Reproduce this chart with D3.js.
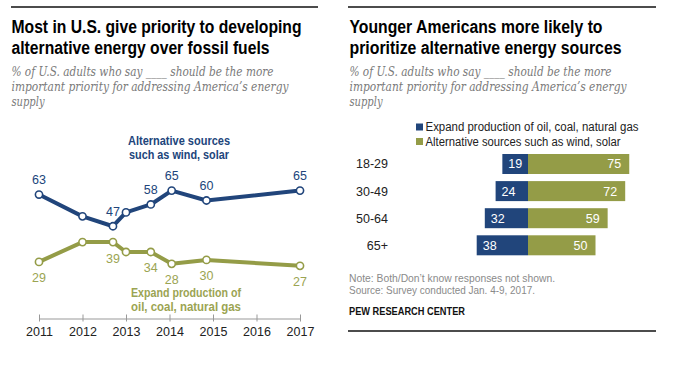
<!DOCTYPE html>
<html>
<head>
<meta charset="utf-8">
<script src="https://cdn.jsdelivr.net/npm/d3@7"></script>
<style>
  html, body { margin: 0; padding: 0; background: #fff; }
  svg { display: block; }
</style>
</head>
<body>
<div id="chart"></div>
<script>
// Left panel: trend over time
const surveyDates = [2011.0, 2012.0, 2012.7, 2013.0, 2013.57, 2014.05, 2014.85, 2017.0];
const altTrend = [63, 52, 47, 54, 58, 65, 60, 65];
const fossilTrend = [29, 39, 39, 34, 34, 28, 30, 27];
const labeled = [true, false, true, false, true, true, true, true];
const axisYears = [2011, 2012, 2013, 2014, 2015, 2016, 2017];

// Right panel: by age
const ageGroups = ["18-29", "30-49", "50-64", "65+"];
const expandByAge = [19, 24, 32, 38];
const altByAge = [75, 72, 59, 50];

const BLUE = "#21457b";
const GREEN = "#949c47";
const GREEN_TEXT = "#9ba452";
const SANS = "'Liberation Sans Narrow', 'Liberation Sans', Arial, sans-serif";
const SERIF = "'DejaVu Serif', 'Liberation Serif', serif";

const svg = d3.select("#chart")
    .append("svg")
    .attr("width", 686)
    .attr("height", 371);

svg.append("rect").attr("width", 686).attr("height", 371).attr("fill", "#fff");

// squeeze/stretch text to the width seen in the reference
function fit(sel, w) {
    sel.attr("textLength", w).attr("lengthAdjust", "spacingAndGlyphs");
    return sel;
}

function addText(x, y, str, opts) {
    const t = svg.append("text")
        .attr("x", x)
        .attr("y", y)
        .attr("font-family", opts.family || SANS)
        .attr("font-size", opts.size || 12)
        .attr("font-weight", opts.weight || "normal")
        .attr("font-style", opts.style || "normal")
        .attr("fill", opts.fill || "#000")
        .attr("text-anchor", opts.anchor || "start")
        .text(str);
    if (opts.w) fit(t, opts.w);
    return t;
}

// top rules
svg.append("line").attr("x1", 11).attr("x2", 318).attr("y1", 7).attr("y2", 7)
    .attr("stroke", "#111").attr("stroke-width", 1.5);
svg.append("line").attr("x1", 348).attr("x2", 656).attr("y1", 7).attr("y2", 7)
    .attr("stroke", "#111").attr("stroke-width", 1.5);
// bottom rule right
svg.append("line").attr("x1", 348).attr("x2", 656).attr("y1", 331).attr("y2", 331)
    .attr("stroke", "#111").attr("stroke-width", 1.5);

// titles
addText(11.5, 33, "Most in U.S. give priority to developing", { size: 18, weight: "bold", w: 290 });
addText(11.5, 53.5, "alternative energy over fossil fuels", { size: 18, weight: "bold", w: 258 });
addText(349.5, 33, "Younger Americans more likely to", { size: 18, weight: "bold", w: 253 });
addText(349.5, 53.5, "prioritize alternative energy sources", { size: 18, weight: "bold", w: 272 });

// subtitles
const subLines = [
    ["% of U.S. adults who say ____ should be the more", 262],
    ["important priority for addressing America\u2019s energy", 277],
    ["supply", 33]
];
subLines.forEach((d, i) => {
    addText(11.5, 76 + i * 15, d[0], { family: SERIF, size: 12.5, style: "italic", fill: "#7a7a7a", w: d[1] });
    addText(349.5, 76 + i * 15, d[0], { family: SERIF, size: 12.5, style: "italic", fill: "#7a7a7a", w: d[1] });
});

// ---------- left line chart ----------
const xL = d3.scaleLinear().domain([2011, 2017]).range([39, 300]);
const yL = d3.scaleLinear().domain([0, 100]).range([319.3, 121.3]);

const axisG = svg.append("g")
    .attr("transform", "translate(0,318.5)")
    .call(d3.axisBottom(xL).tickValues(axisYears).tickFormat(d3.format("d"))
        .tickSizeInner(3).tickSizeOuter(0).tickPadding(6));
axisG.select(".domain").attr("stroke", "#999").attr("stroke-width", 1);
axisG.selectAll(".tick line").attr("stroke", "#999").attr("y1", -4);
axisG.selectAll(".tick text")
    .attr("font-family", "'Liberation Sans', Arial, sans-serif")
    .attr("font-size", 12.5)
    .attr("fill", "#222");

const series = [
    { values: altTrend, color: BLUE, textColor: BLUE, above: true },
    { values: fossilTrend, color: GREEN, textColor: GREEN_TEXT, above: false }
];

const line = d3.line()
    .x((d, i) => xL(surveyDates[i]))
    .y(d => yL(d));

series.forEach(s => {
    svg.append("path")
        .datum(s.values)
        .attr("fill", "none")
        .attr("stroke", s.color)
        .attr("stroke-width", 4)
        .attr("stroke-linejoin", "round")
        .attr("d", line);

    svg.append("g").selectAll("circle")
        .data(s.values)
        .enter()
        .append("circle")
        .attr("cx", (d, i) => xL(surveyDates[i]))
        .attr("cy", d => yL(d))
        .attr("r", 3.6)
        .attr("fill", "#fff")
        .attr("stroke", s.color)
        .attr("stroke-width", 1.6);

    svg.append("g").selectAll("text")
        .data(s.values.map((v, i) => ({ v, i })).filter(d => labeled[d.i]))
        .enter()
        .append("text")
        .attr("x", d => xL(surveyDates[d.i]))
        .attr("y", d => yL(d.v) + (s.above ? -10.5 : 20.5))
        .attr("text-anchor", "middle")
        .attr("font-family", "'Liberation Sans', Arial, sans-serif")
        .attr("font-size", 12.5)
        .attr("fill", s.textColor)
        .text(d => d.v);
});

// series labels
addText(179, 145, "Alternative sources", { size: 12.5, weight: "bold", fill: BLUE, anchor: "middle", w: 102 });
addText(179, 158.5, "such as wind, solar", { size: 12.5, weight: "bold", fill: BLUE, anchor: "middle", w: 100 });
addText(186, 297, "Expand production of", { size: 12.5, weight: "bold", fill: GREEN_TEXT, anchor: "middle", w: 110 });
addText(186, 311, "oil, coal, natural gas", { size: 12.5, weight: "bold", fill: GREEN_TEXT, anchor: "middle", w: 110 });

// ---------- right bar chart ----------
const xR = d3.scaleLinear().domain([0, 100]).range([528, 663]);
const yR = d3.scaleBand().domain(ageGroups).range([154, 255.3]).paddingInner(0.262).paddingOuter(0);

// legend
const legendItems = [
    ["Expand production of oil, coal, natural gas", BLUE, 213],
    ["Alternative sources such as wind, solar", GREEN, 195]
];
legendItems.forEach((d, i) => {
    const cy = 127 + i * 14.5;
    svg.append("rect").attr("x", 416).attr("y", cy - 3.5).attr("width", 7).attr("height", 7).attr("fill", d[1]);
    addText(425.5, cy + 4, d[0], { size: 12, fill: "#222", w: d[2] });
});

const rows = svg.append("g").selectAll("g")
    .data(ageGroups)
    .enter()
    .append("g");

rows.append("text")
    .attr("x", 388)
    .attr("y", d => yR(d) + yR.bandwidth() / 2 + 4.5)
    .attr("text-anchor", "end")
    .attr("font-family", "'Liberation Sans', Arial, sans-serif")
    .attr("font-size", 12.5)
    .attr("fill", "#222")
    .text(d => d);

rows.append("rect")
    .attr("x", (d, i) => xR(-expandByAge[i]))
    .attr("y", d => yR(d))
    .attr("width", (d, i) => xR(0) - xR(-expandByAge[i]))
    .attr("height", yR.bandwidth())
    .attr("fill", BLUE);

rows.append("rect")
    .attr("x", xR(0))
    .attr("y", d => yR(d))
    .attr("width", (d, i) => xR(altByAge[i]) - xR(0))
    .attr("height", yR.bandwidth())
    .attr("fill", GREEN);

rows.append("text")
    .attr("x", (d, i) => xR(-expandByAge[i]) + 6)
    .attr("y", d => yR(d) + yR.bandwidth() / 2 + 4.5)
    .attr("font-family", "'Liberation Sans', Arial, sans-serif")
    .attr("font-size", 12.5)
    .attr("fill", "#fff")
    .text((d, i) => expandByAge[i]);

rows.append("text")
    .attr("x", (d, i) => xR(altByAge[i]) - 8)
    .attr("y", d => yR(d) + yR.bandwidth() / 2 + 4.5)
    .attr("text-anchor", "end")
    .attr("font-family", "'Liberation Sans', Arial, sans-serif")
    .attr("font-size", 12.5)
    .attr("fill", "#fff")
    .text((d, i) => altByAge[i]);

// notes
addText(349, 282, "Note: Both/Don\u2019t know responses not shown.", { size: 11, fill: "#8a8a8a", w: 206 });
addText(349, 293.5, "Source: Survey conducted Jan. 4-9, 2017.", { size: 11, fill: "#8a8a8a", w: 186 });
addText(349, 315, "PEW RESEARCH CENTER", { size: 10.5, weight: "bold", fill: "#111", w: 116 });
</script>
</body>
</html>
